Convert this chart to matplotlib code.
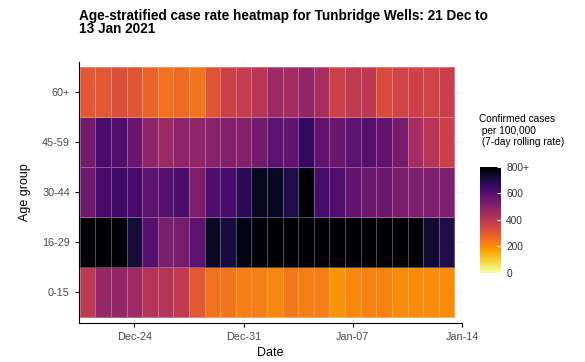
import numpy as np
import pandas as pd
import matplotlib
matplotlib.use("Agg")
import matplotlib.pyplot as plt
import matplotlib.dates as mdates

plt.rcParams['font.family'] = ['Liberation Sans', 'DejaVu Sans']

dates = pd.date_range("2020-12-21", "2021-01-13", freq="D")
age_groups = ["0-15", "16-29", "30-44", "45-59", "60+"]

# 7-day rolling case rate per 100,000, one list per age group (Dec 21 .. Jan 13)
rate_0_15 = [395, 475, 480, 455, 415, 415, 390, 305, 250, 245, 225, 225,
             210, 240, 225, 225, 190, 210, 220, 220, 205, 205, 205, 205]
rate_16_29 = [900, 900, 900, 720, 600, 530, 535, 590, 745, 715, 770, 790,
              820, 850, 850, 850, 850, 850, 850, 850, 850, 820, 730, 700]
rate_30_44 = [555, 625, 640, 625, 585, 600, 620, 520, 615, 630, 680, 750,
              750, 700, 785, 630, 610, 575, 560, 560, 530, 525, 520, 520]
rate_45_59 = [540, 620, 610, 565, 490, 460, 490, 485, 505, 510, 510, 545,
              590, 580, 660, 580, 565, 585, 600, 580, 535, 445, 410, 370]
rate_60 = [305, 305, 325, 310, 280, 250, 265, 245, 315, 365, 380, 400,
           465, 445, 480, 440, 365, 390, 395, 335, 355, 360, 355, 370]

rates = np.array([rate_0_15, rate_16_29, rate_30_44, rate_45_59, rate_60])

fig = plt.figure(figsize=(5.85, 3.62), dpi=100)
ax = fig.add_axes([0.135, 0.108, 0.655, 0.721])

xnum = mdates.date2num(dates)
xedges = np.append(xnum - 0.5, xnum[-1] + 0.5)
yedges = np.arange(len(age_groups) + 1) + 0.5

ax.set_axisbelow(True)
ax.grid(True, color="#ebebeb", linewidth=0.6)
mesh = ax.pcolormesh(xedges, yedges, rates, cmap="inferno_r", vmin=0, vmax=800,
                     edgecolors=(1, 1, 1, 0.3), linewidth=0.5)

ax.set_xlim(xnum[0] - 0.55, xnum[-1] + 0.75)
ax.set_ylim(0.39, 5.6)
ax.set_yticks(np.arange(1, len(age_groups) + 1))
ax.set_yticklabels(age_groups)
ticks = pd.to_datetime(["2020-12-24", "2020-12-31", "2021-01-07", "2021-01-14"])
ax.set_xticks(mdates.date2num(ticks))
ax.xaxis.set_major_formatter(mdates.DateFormatter("%b-%d"))
ax.tick_params(labelsize=7.8, colors="black", labelcolor="#4d4d4d", length=3, width=0.8)
for side in ["top", "right"]:
    ax.spines[side].set_visible(False)
ax.set_xlabel("Date", fontsize=9)
ax.set_ylabel("Age group", fontsize=9, labelpad=8)

fig.text(0.135, 0.975, "Age-stratified case rate heatmap for Tunbridge Wells: 21 Dec to\n13 Jan 2021",
         fontsize=9.8, fontweight="bold", va="top", ha="left", linespacing=0.9)

cax = fig.add_axes([0.821, 0.246, 0.036, 0.293])
cb = fig.colorbar(mesh, cax=cax, ticks=[0, 200, 400, 600, 800])
cb.ax.set_yticklabels(["0", "200", "400", "600", "800+"])
cb.outline.set_visible(False)
cb.ax.tick_params(labelsize=7.3, color="white", direction="in", length=3, labelcolor="#333333")
fig.text(0.818, 0.685, "Confirmed cases\n per 100,000\n (7-day rolling rate)",
         fontsize=7.3, va="top", ha="left")

fig.savefig("out.png", dpi=100)
